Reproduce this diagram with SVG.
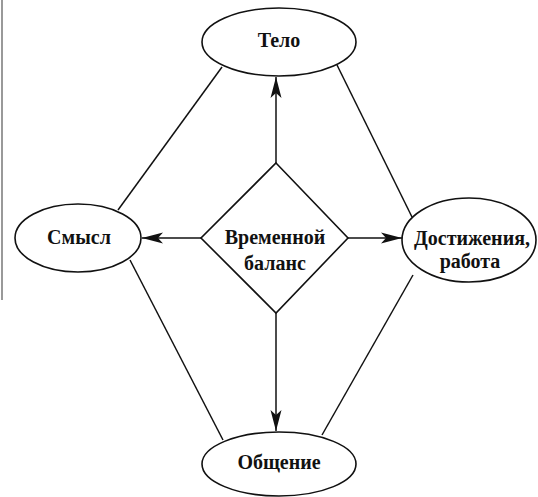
<svg xmlns="http://www.w3.org/2000/svg" width="538" height="497" viewBox="0 0 538 497">
<style>
.n{fill:#fff;stroke:#111;stroke-width:1.6}
.t{font-family:"Liberation Serif","DejaVu Serif",serif;font-weight:bold;font-size:20px;fill:#111;text-anchor:middle}
.c{stroke:#111;stroke-width:1.5;fill:none}
</style>
<defs>
<marker id="ah" markerUnits="userSpaceOnUse" markerWidth="22" markerHeight="14" viewBox="0 0 22 14" refX="21" refY="7" orient="auto">
<path d="M0,1.5 L21,7 L0,12.5 L5,7 Z" fill="#111"/>
</marker>
</defs>
<rect width="538" height="497" fill="#fff"/>
<line x1="2" y1="0" x2="2" y2="300" stroke="#777" stroke-width="1.5"/>
<g id="connectors">
<line class="c" x1="222" y1="67" x2="118" y2="210"/>
<line class="c" x1="337" y1="65" x2="412" y2="217"/>
<line class="c" x1="130" y1="260" x2="223" y2="440"/>
<line class="c" x1="413" y1="275" x2="322" y2="435"/>
<line class="c" x1="276" y1="163" x2="276" y2="77" marker-end="url(#ah)"/>
<line class="c" x1="201" y1="238" x2="142" y2="238" marker-end="url(#ah)"/>
<line class="c" x1="348" y1="238" x2="402" y2="238" marker-end="url(#ah)"/>
<line class="c" x1="276" y1="313" x2="276" y2="431" marker-end="url(#ah)"/>
</g>
<g id="telo">
<ellipse class="n" cx="279" cy="42" rx="77" ry="34"/>
<text class="t" x="279" y="47">Тело</text>
</g>
<g id="smysl">
<ellipse class="n" cx="78" cy="238" rx="63" ry="34"/>
<text class="t" x="79" y="244">Смысл</text>
</g>
<g id="balance">
<polygon class="n" points="276,163 348,238 276,313 201,238"/>
<text class="t" x="275" y="244">Временной</text>
<text class="t" x="275" y="270">баланс</text>
</g>
<g id="dostizheniya">
<ellipse class="n" cx="469" cy="240" rx="67" ry="42"/>
<text class="t" x="472" y="245">Достижения,</text>
<text class="t" x="470" y="268">работа</text>
</g>
<g id="obshchenie">
<ellipse class="n" cx="279" cy="464" rx="77" ry="32"/>
<text class="t" x="279" y="469">Общение</text>
</g>
</svg>
